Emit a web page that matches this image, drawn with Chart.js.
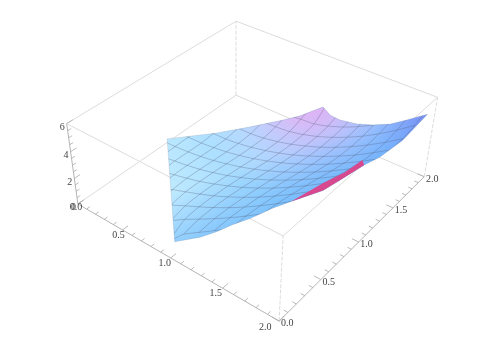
<!DOCTYPE html><html><body style="margin:0;background:#fff"><canvas id="c" width="498" height="352" style="display:block;filter:blur(.45px)"></canvas>
<script src="https://cdn.jsdelivr.net/npm/chart.js@4"></script>
<script>
const camera=[[80.3902,100.217,-2.62573,77.9198],[35.2998,-45.8354,-14.7908,203.969],[-0.072451,0.0899993,-0.0112722,1]];
const meshXs=[0,.14,.29,.43,.57,.71,.86,1,1.14,1.29,1.43,1.57,1.71,1.86,2];
const meshYs=[0,.17,.33,.5,.67,.83,1,1.17,1.33,1.5,1.67,1.83,2];
const zTable=[
[.35,.35,.35,.35,.35,.35,.35,.35,.35,.35,.35,.35,.35],
[.33,.34,.35,.35,.35,.36,.37,.38,.38,.39,.40,.41,.42],
[.37,.39,.40,.42,.43,.50,.46,.42,.49,.50,.52,.54,.55],
[.46,.48,.50,.53,.67,.66,.59,.53,.52,.66,.69,.71,.74],
[.60,.63,.66,.86,.92,.86,.77,.68,.64,.69,.91,.95,1.00],
[.79,.83,1.07,1.23,1.20,1.12,1.01,.89,.82,.81,.99,1.26,1.33],
[1.05,1.34,1.61,1.64,1.57,1.45,1.31,1.17,1.08,1.03,1.10,1.41,1.76],
[1.35,2.00,2.10,2.06,1.96,1.82,1.65,1.49,1.38,1.31,1.34,1.50,2.25],
[2.41,2.60,2.61,2.53,2.39,2.23,2.04,1.86,1.73,1.66,1.66,1.79,2.11],
[3.19,3.26,3.21,3.09,2.92,2.73,2.51,2.32,2.18,2.09,2.10,2.21,2.48],
[3.91,3.91,3.82,3.66,3.46,3.25,3.01,2.79,2.65,2.57,2.59,2.71,2.99],
[4.66,4.60,4.48,4.29,4.06,3.82,3.55,3.32,3.18,3.11,3.15,3.31,3.61],
[5.44,5.34,5.18,4.96,4.70,4.44,4.15,3.91,3.76,3.72,3.80,4.00,4.36],
[6.33,6.18,5.98,5.73,5.45,5.16,4.85,4.59,4.46,4.44,4.58,4.84,5.30],
[7.20,7.02,6.79,6.51,6.20,5.89,5.55,5.28,5.16,5.19,5.39,5.74,6.30]];
const outlineX=[0,1.05,1.30,1.45,1.59,1.74,1.70,1.75,1.86,1.89,1.93,2,2,1.94,1.77,1.63,1.47,1.32,1.15,1.05,.97,.84,.74,.53,.33];
const outlineY=[1.05,0,0,0,0,0,.3,.42,.66,.83,1.08,1.17,1.5,2,2,2,2,2,2,2,2,1.84,1.74,1.53,1.33];
const outlineZ=[.29,1.46,2.89,3.92,5,6.05,5,5,5,5,5,5.38,5.07,4.6,3.62,2.84,2.25,1.83,1.59,1.65,2.05,1.57,1.34,.96,.67];
const pinkX=[1.84,1.90,1.95,1.97,1.93,1.89,1.86,1.75];
const pinkY=[.29,.59,.78,.97,1.08,.83,.66,.42];
const pinkZ=[6,6,6,6,5,5,5,5];
const axisTicks=[0,.5,1,1.5,2];
const axisMinor=[.1,.2,.3,.4,.6,.7,.8,.9,1.1,1.2,1.3,1.4,1.6,1.7,1.8,1.9];
const zTicks=[0,2,4,6];
const zMinor=[.5,1,1.5,2.5,3,3.5,4.5,5,5.5];
const pr=(x,y,z)=>{const c=camera,w=c[2][0]*x+c[2][1]*y+c[2][2]*z+c[2][3];return {x:(c[0][0]*x+c[0][1]*y+c[0][2]*z+c[0][3])/w,y:(c[1][0]*x+c[1][1]*y+c[1][2]*z+c[1][3])/w};};
const ctx=document.getElementById('c').getContext('2d');
const g1=ctx.createLinearGradient(170,200,425,130);[[0,'rgba(184,232,255,.9)'],[.35,'rgba(150,212,255,.9)'],[.6,'rgba(115,188,255,.92)'],[.82,'rgba(112,175,254,.95)'],[1,'rgba(125,145,245,.97)']].forEach(a=>g1.addColorStop(a[0],a[1]));
const g2=ctx.createRadialGradient(308,92,0,308,92,112);[[0,'rgba(245,165,240,.95)'],[.3,'rgba(240,185,245,.75)'],[.7,'rgba(225,215,255,.3)'],[1,'rgba(225,225,255,0)']].forEach(a=>g2.addColorStop(a[0],a[1]));
const g3=ctx.createLinearGradient(235,170,255,225);[[0,'rgba(80,165,250,0)'],[1,'rgba(80,165,250,.5)']].forEach(a=>g3.addColorStop(a[0],a[1]));
const ds=[];
const line=(pts,color,w,order,dash)=>ds.push({data:pts,showLine:true,borderColor:color,borderWidth:w,pointRadius:0,order,borderDash:dash||[],fill:false,clip:false});
const light='#dcdcdc',dark='#b4b4b4';
const edge=(a,b,color,dash)=>line([pr(...a),pr(...b)],color,1,10,dash);
[[[0,0,6],[2,0,6]],[[2,0,6],[2,2,6]],[[2,2,6],[0,2,6]],[[0,2,6],[0,0,6]],[[0,0,0],[0,2,0]],[[0,2,0],[2,2,0]]].forEach(e=>edge(e[0],e[1],light));
[[[2,0,0],[2,0,6]],[[2,2,0],[2,2,6]],[[0,2,0],[0,2,6]]].forEach(e=>edge(e[0],e[1],light,[4,1.5]));
edge([0,0,0],[2,0,0],dark);edge([2,0,0],[2,2,0],dark);edge([0,0,0],[0,0,6],dark);
const xyTick=(t,m)=>{line([pr(t,0,0),pr(t,m,0)],'#aaa',.8,9);line([pr(2,t,0),pr(2-m,t,0)],'#aaa',.8,9);};
axisTicks.forEach(t=>xyTick(t,.06));axisMinor.forEach(t=>xyTick(t,.035));
zTicks.forEach(t=>line([pr(0,0,t),pr(0,.06,t)],'#aaa',.8,9));
zMinor.forEach(t=>line([pr(0,0,t),pr(0,.035,t)],'#aaa',.8,9));
const outline=outlineX.map((x,i)=>pr(x,outlineY[i],outlineZ[i]));
const poly=(pts,bg,order)=>ds.push({data:pts,showLine:true,borderWidth:0,borderColor:'transparent',backgroundColor:bg,fill:'shape',pointRadius:0,order,clip:false});
poly(outline,g1,8);poly(outline,g2,7);poly(outline,g3,6.5);
line(outline.concat([outline[0]]),'rgba(120,130,150,.3)',.7,5);
poly(pinkX.map((x,i)=>pr(x,pinkY[i],pinkZ[i])),'#d8488f',2);
const meshColor='rgba(85,95,120,.33)';
const mesh=pts=>ds.push({data:pts,showLine:true,borderColor:meshColor,borderWidth:1,pointRadius:0,order:3,fill:false,clip:false,tension:.25,surfaceClip:true});
meshXs.forEach((x,i)=>mesh(meshYs.map((y,j)=>pr(x,y,zTable[i][j]))));
meshYs.forEach((y,j)=>mesh(meshXs.map((x,i)=>pr(x,y,zTable[i][j]))));
const xOff=[[-2,3],[-4,5],[-6,5],[-7,5],[-14,6]];
const surfaceClip={id:'surfaceClip',beforeDatasetDraw(ch,a){if(!ch.data.datasets[a.index].surfaceClip)return;const c=ch.ctx;c.save();c.beginPath();const s=ch.scales;outline.forEach((p,i)=>{const X=s.x.getPixelForValue(p.x),Y=s.y.getPixelForValue(p.y);i?c.lineTo(X,Y):c.moveTo(X,Y);});c.closePath();c.clip();},afterDatasetDraw(ch,a){if(ch.data.datasets[a.index].surfaceClip)ch.ctx.restore();}};
const labels={id:'labels',afterDatasetsDraw(ch){const c=ch.ctx,s=ch.scales;c.save();c.font='10px "Liberation Serif"';c.fillStyle='#444';c.textAlign='center';c.textBaseline='middle';
 const put=(t,p,dx,dy)=>c.fillText(t,s.x.getPixelForValue(p.x)+dx,s.y.getPixelForValue(p.y)+dy);
 axisTicks.forEach((t,i)=>{put(t.toFixed(1),pr(t,0,0),xOff[i][0],xOff[i][1]);put(t.toFixed(1),pr(2,t,0),8,2.5);});
 zTicks.forEach(t=>put(String(t),pr(0,0,t),-4.5,3.5));c.restore();}};
new Chart(ctx,{type:'scatter',data:{datasets:ds},plugins:[surfaceClip,labels],options:{responsive:false,animation:false,layout:{padding:0},plugins:{legend:{display:false},tooltip:{enabled:false}},scales:{x:{display:false,min:0,max:498},y:{display:false,min:0,max:352,reverse:true}}}});
</script></body></html>
